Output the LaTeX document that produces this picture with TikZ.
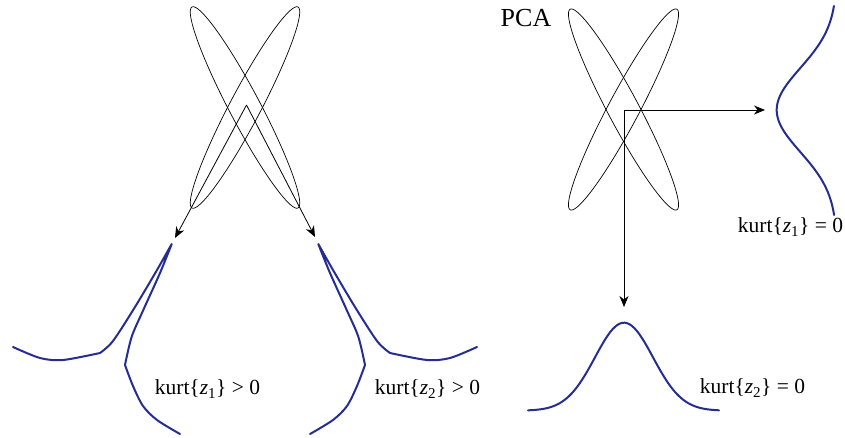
\documentclass[tikz,border=0pt]{standalone}
\usepackage{fontspec}
\setmainfont{Liberation Serif}
\usetikzlibrary{arrows.meta}
\definecolor{distblue}{RGB}{38,45,145}
\tikzset{
  distcurve/.style={draw=distblue, line width=2pt, line join=round, line cap=round},
  mixline/.style={draw=black, line width=0.7pt},
  arrowline/.style={draw=black, line width=0.8pt, -{Stealth[length=11pt,width=9pt,inset=3.5pt]}},
  lbl/.style={font=\fontsize{21.5}{25}\selectfont, inner sep=0pt}
}
\begin{document}
\begin{tikzpicture}[x=1pt,y=-1pt]
\useasboundingbox (0,0) rectangle (845,438);
% ---- left: mixed signals (two ellipses) ----
\draw[mixline] plot[smooth cycle, samples=120, domain=0:357]
  ({245+113.6*cos(\x)*cos(62.2)-15.5*sin(\x)*sin(62.2)},{107.5+113.6*cos(\x)*sin(62.2)+15.5*sin(\x)*cos(62.2)});
\draw[mixline] plot[smooth cycle, samples=120, domain=0:357]
  ({245+113.6*cos(\x)*cos(117.8)-15.5*sin(\x)*sin(117.8)},{107.5+113.6*cos(\x)*sin(117.8)+15.5*sin(\x)*cos(117.8)});
\coordinate (apexL) at (246.5,105);
\coordinate (tipA) at (175,238);
\coordinate (tipB) at (315,237);
\draw[arrowline] (apexL) -- (tipA);
\draw[arrowline] (apexL) -- (tipB);
% ---- left distribution curve ----
\draw[distcurve] plot[smooth] coordinates {(13,347) (40,358) (63,360) (100,353)}
  -- plot[smooth] coordinates {(100,353) (113,341) (135,307) (157,270) (171.7,244)}
  -- plot[smooth] coordinates {(171.7,244) (160,273) (143.3,310) (131.7,336.7) (125,365)}
  -- plot[smooth] coordinates {(125,365) (133,386) (143,406) (157,420) (180,434)};
% ---- right distribution curve (mirror) ----
\draw[distcurve] plot[smooth] coordinates {(477,347) (450,358) (427,360) (390,353)}
  -- plot[smooth] coordinates {(390,353) (377,341) (355,307) (333,270) (318.3,244)}
  -- plot[smooth] coordinates {(318.3,244) (330,273) (346.7,310) (358.3,336.7) (365,365)}
  -- plot[smooth] coordinates {(365,365) (357,386) (347,406) (333,420) (310,434)};
\node[lbl] (k1) at (207.5,389) {kurt\{\textit{z}\textsubscript{1}\} > 0};
\node[lbl] (k2) at (427.5,389) {kurt\{\textit{z}\textsubscript{2}\} > 0};
% ---- right: PCA ----
\node[lbl, font=\fontsize{26}{30}\selectfont] (pca) at (526,18) {PCA};
\draw[mixline] plot[smooth cycle, samples=120, domain=0:357]
  ({623.5+113.6*cos(\x)*cos(62)-15.5*sin(\x)*sin(62)},{109.5+113.6*cos(\x)*sin(62)+15.5*sin(\x)*cos(62)});
\draw[mixline] plot[smooth cycle, samples=120, domain=0:357]
  ({623.5+113.6*cos(\x)*cos(118)-15.5*sin(\x)*sin(118)},{109.5+113.6*cos(\x)*sin(118)+15.5*sin(\x)*cos(118)});
\coordinate (origin) at (624,110);
\coordinate (hEnd) at (765,110);
\coordinate (vEnd) at (624,307);
\draw[arrowline] (origin) -- (hEnd);
\draw[arrowline] (origin) -- (vEnd);
% gaussian horizontal
\draw[distcurve] plot[smooth, domain=-96:95, samples=80] ({624+\x},{410.7-88*exp(-(\x*\x)/1682)});
% gaussian vertical
\draw[distcurve] plot[smooth, domain=-104:105, samples=80] ({836.7-60*exp(-(\x*\x)/3528)},{110+\x});
\node[lbl] (k3) at (752.5,388) {kurt\{\textit{z}\textsubscript{2}\} = 0};
\node[lbl] (k4) at (790.5,227) {kurt\{\textit{z}\textsubscript{1}\} = 0};
\end{tikzpicture}
\end{document}
